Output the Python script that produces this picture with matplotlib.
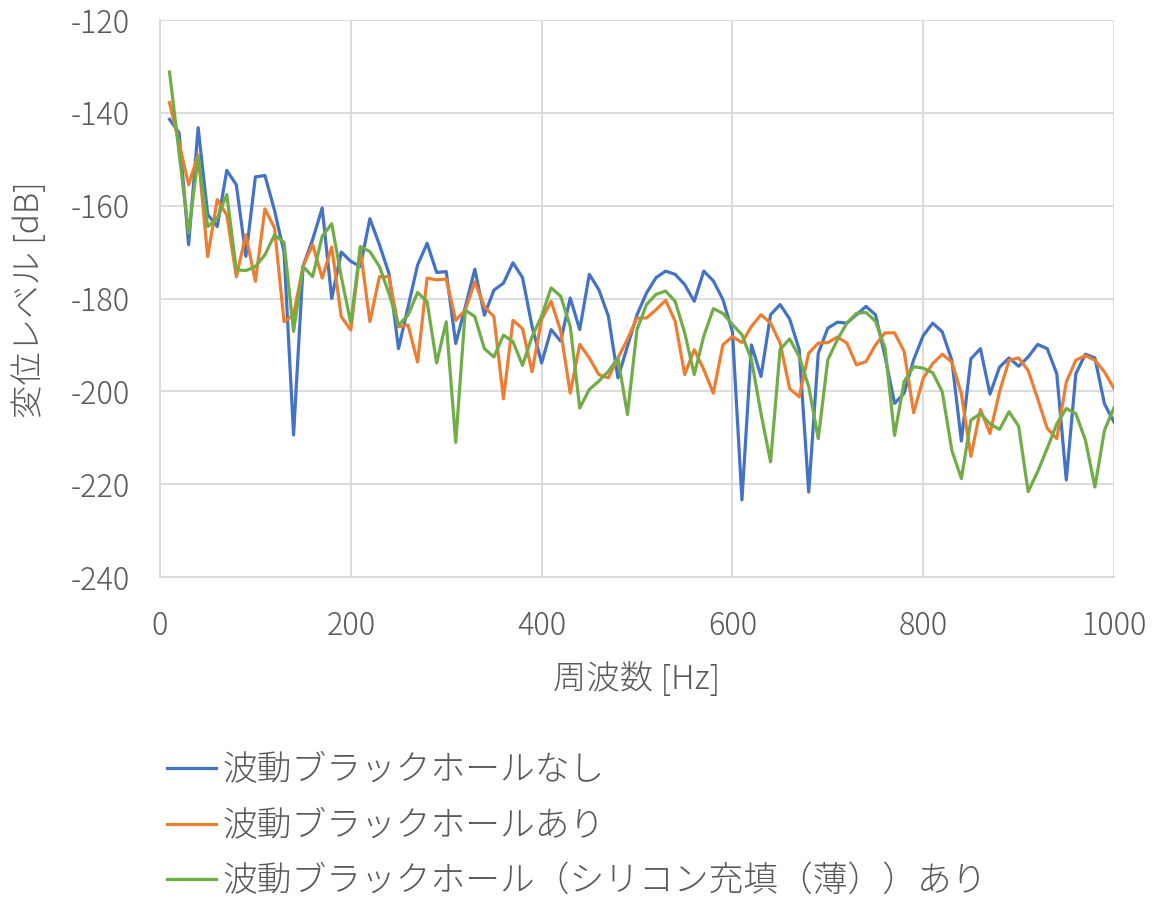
import matplotlib
matplotlib.use('Agg')
import matplotlib.pyplot as plt
import numpy as np

plt.rcParams['font.family'] = ['Noto Sans CJK JP', 'DejaVu Sans']
plt.rcParams['font.weight'] = 'light'
plt.rcParams['axes.unicode_minus'] = False

# frequency axis: 10 Hz steps
freq = np.arange(10, 1001, 10)

no_bh = [
    -141.4, -144.3, -168.4, -143.2, -161.9, -164.5, -152.4, -155.5, -170.9, -153.8,
    -153.5, -161.0, -170.0, -209.4, -173.0, -167.3, -160.5, -180.0, -170.0, -172.0,
    -173.1, -162.8, -168.4, -174.6, -190.8, -181.8, -172.8, -168.1, -174.4, -174.2,
    -189.7, -181.8, -173.7, -183.6, -178.2, -176.7, -172.3, -175.5, -186.0, -193.9,
    -186.7, -189.2, -179.9, -186.7, -174.8, -178.1, -183.8, -197.1, -190.3, -183.5,
    -178.8, -175.5, -174.1, -174.8, -177.0, -180.6, -174.1, -176.2, -180.2, -187.1,
    -223.4, -190.0, -196.8, -183.5, -181.3, -184.4, -191.0, -221.7, -191.8, -186.4,
    -185.1, -185.3, -183.5, -181.7, -183.5, -192.5, -202.6, -200.4, -193.2, -188.0,
    -185.3, -187.2, -193.3, -210.7, -193.0, -190.8, -200.6, -194.8, -192.8, -194.6,
    -192.6, -189.9, -190.8, -196.2, -219.1, -196.2, -192.0, -192.8, -202.7, -206.6,
]

with_bh = [
    -137.8, -146.5, -155.5, -149.0, -171.0, -158.7, -162.0, -175.3, -166.3, -176.3,
    -160.7, -164.8, -185.0, -183.5, -173.0, -168.4, -175.6, -168.9, -183.9, -186.8,
    -169.5, -185.0, -175.3, -175.3, -186.1, -185.7, -193.7, -175.6, -176.0, -175.8,
    -184.7, -182.5, -176.4, -181.8, -183.9, -201.6, -184.7, -186.5, -195.8, -184.5,
    -180.6, -187.0, -200.4, -189.9, -192.8, -196.4, -197.1, -192.8, -188.8, -184.2,
    -184.2, -182.4, -180.4, -184.9, -196.4, -191.0, -195.3, -200.4, -190.0, -188.2,
    -189.5, -186.0, -183.5, -185.3, -189.6, -199.4, -201.2, -191.8, -189.6, -189.5,
    -188.3, -189.6, -194.3, -193.6, -190.0, -187.4, -187.4, -191.4, -204.6, -197.2,
    -194.0, -192.0, -193.7, -200.5, -214.0, -203.9, -209.1, -200.1, -193.3, -192.8,
    -195.5, -201.6, -208.0, -210.2, -198.0, -193.3, -192.3, -193.3, -195.8, -199.4,
]

with_bh_silicone = [
    -131.2, -148.6, -165.9, -149.4, -164.5, -162.7, -157.6, -173.8, -174.0, -173.1,
    -170.6, -166.3, -167.9, -187.1, -173.1, -175.3, -166.6, -163.9, -175.3, -185.3,
    -168.8, -169.9, -173.1, -178.9, -185.7, -183.6, -178.7, -180.7, -193.9, -185.0,
    -211.0, -182.5, -183.9, -190.8, -192.6, -187.9, -189.3, -194.4, -188.2, -183.8,
    -177.7, -179.5, -186.0, -203.6, -199.6, -197.8, -195.7, -192.8, -205.0, -186.7,
    -181.3, -179.1, -178.4, -180.6, -187.4, -196.4, -188.1, -182.2, -183.2, -185.6,
    -187.8, -193.2, -204.8, -215.2, -191.0, -188.7, -192.5, -199.0, -210.2, -193.2,
    -188.9, -185.3, -183.2, -183.0, -184.9, -190.7, -209.5, -197.9, -194.7, -195.0,
    -196.0, -200.1, -212.7, -218.8, -206.2, -204.8, -207.0, -208.2, -204.4, -207.5,
    -221.6, -217.3, -212.3, -207.0, -203.7, -204.8, -210.5, -220.6, -208.4, -203.5,
]

labels = [
    '波動ブラックホールなし',
    '波動ブラックホールあり',
    '波動ブラックホール（シリコン充填（薄））あり',
]
colors = ['#4472C4', '#ED7D31', '#70AD47']
text_color = '#595959'

W, H = 1160, 897
fig = plt.figure(figsize=(W / 100, H / 100), dpi=100)
ax = fig.add_axes([160 / W, 1 - 577 / H, (1114 - 160) / W, (577 - 20) / H])

for y, c, lab in zip([no_bh, with_bh, with_bh_silicone], colors, labels):
    ax.plot(freq, y, color=c, linewidth=2.3, label=lab)

ax.set_xlim(0, 1000)
ax.set_ylim(-240, -120)
ax.set_xticks(np.arange(0, 1001, 200))
ax.set_yticks(np.arange(-240, -119, 20))
ax.grid(True, color='#d9d9d9', linewidth=1.3)
ax.set_axisbelow(True)
ax.tick_params(length=0, labelsize=22, colors=text_color)
ax.tick_params(axis='y', pad=22)
ax.tick_params(axis='x', pad=24)
for s in ['top', 'right']:
    ax.spines[s].set_visible(False)
for s in ['left', 'bottom']:
    ax.spines[s].set_color('#d9d9d9')
    ax.spines[s].set_linewidth(1.3)

fig.text(637 / W, 1 - 680 / H, '周波数 [Hz]', fontsize=24, color=text_color,
         ha='center', va='center')
fig.text(30 / W, 1 - 300 / H, '変位レベル [dB]', fontsize=24, color=text_color,
         ha='center', va='center', rotation=90)

fig.legend(loc='upper left', bbox_to_anchor=(150 / W, 1 - 735 / H),
           frameon=False, fontsize=25, handlelength=1.4, handletextpad=0.2,
           labelspacing=0.56, borderpad=0, labelcolor=text_color)

fig.savefig('out.png', dpi=100)
